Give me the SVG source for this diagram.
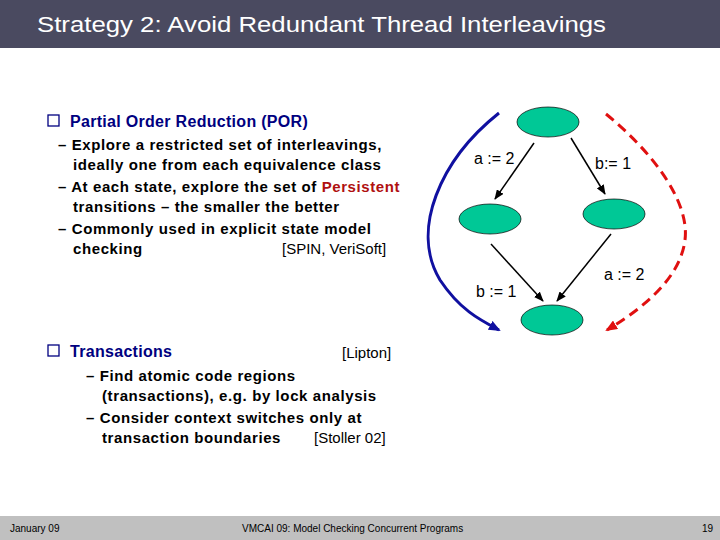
<svg xmlns="http://www.w3.org/2000/svg" width="720" height="540" viewBox="0 0 720 540">
<style>
text{font-family:"Liberation Sans",Arial,sans-serif}
.b{font-size:15px;font-weight:bold;fill:#000;letter-spacing:0.6px}
.h{font-size:16px;font-weight:bold;fill:#000080}
.r{font-size:15px;fill:#000}
.lab{font-size:16px;fill:#000}
.n{fill:#00c896;stroke:#000;stroke-width:0.7}
.e{stroke:#000;stroke-width:1.5;fill:none;marker-end:url(#a)}
.f{font-size:10px;fill:#000}
</style>
<defs>
<marker id="a" markerWidth="10" markerHeight="8" refX="9" refY="4" orient="auto" markerUnits="userSpaceOnUse"><path d="M0,0L10,4L0,8z" fill="#000"/></marker>
<marker id="ab" markerWidth="12" markerHeight="10" refX="10" refY="5" orient="auto" markerUnits="userSpaceOnUse"><path d="M0,0L12,5L0,10z" fill="#1010a0"/></marker>
<marker id="ar" markerWidth="12" markerHeight="10" refX="10" refY="5" orient="auto" markerUnits="userSpaceOnUse"><path d="M0,0L12,5L0,10z" fill="#e01010"/></marker>
</defs>
<rect x="0" y="0" width="720" height="48" fill="#4a4a60"/>
<text x="37" y="32" style="font-size:22px;fill:#fff" textLength="569" lengthAdjust="spacingAndGlyphs">Strategy 2: Avoid Redundant Thread Interleavings</text>
<rect x="0" y="516" width="720" height="24" fill="#c0c0c0"/>
<text x="10" y="532" class="f">January 09</text>
<text x="242" y="532" class="f">VMCAI 09: Model Checking Concurrent Programs</text>
<text x="702" y="532" class="f">19</text>

<rect x="48" y="115" width="11" height="11" fill="none" stroke="#000080" stroke-width="1.3"/>
<text x="70" y="127" class="h" letter-spacing="0.3">Partial Order Reduction (POR)</text>
<text x="58" y="150" class="b">– Explore a restricted set of interleavings,</text>
<text x="73" y="170" class="b">ideally one from each equivalence class</text>
<text x="58" y="192" class="b">– At each state, explore the set of <tspan fill="#b01010">Persistent</tspan></text>
<text x="73" y="212" class="b">transitions – the smaller the better</text>
<text x="58" y="234" class="b">– Commonly used in explicit state model</text>
<text x="73" y="254" class="b">checking</text>
<text x="282" y="254" class="r">[SPIN, VeriSoft]</text>

<rect x="48" y="345" width="11" height="11" fill="none" stroke="#000080" stroke-width="1.3"/>
<text x="70" y="357" class="h" letter-spacing="0.3">Transactions</text>
<text x="342" y="358" class="r">[Lipton]</text>
<text x="86" y="381" class="b">– Find atomic code regions</text>
<text x="102" y="401" class="b">(transactions), e.g. by lock analysis</text>
<text x="86" y="423" class="b">– Consider context switches only at</text>
<text x="102" y="443" class="b">transaction boundaries</text>
<text x="314" y="443" class="r">[Stoller 02]</text>

<g id="connectors">
<line class="e" x1="534" y1="143" x2="495" y2="199"/>
<line class="e" x1="571" y1="138" x2="605" y2="194"/>
<line class="e" x1="491" y1="244" x2="543" y2="301"/>
<line class="e" x1="611" y1="234" x2="557" y2="301"/>
<path d="M499,113 C440,160 410,230 440,280 C460,310 480,320 499,330" fill="none" stroke="#1010a0" stroke-width="3" marker-end="url(#ab)"/>
<path d="M606,114 C650,150 690,200 685,240 C680,280 640,310 607,330" fill="none" stroke="#e01010" stroke-width="3" stroke-dasharray="10,6" marker-end="url(#ar)"/>
</g>
<g id="n1"><ellipse class="n" cx="548" cy="122" rx="31" ry="15"/></g>
<g id="n2"><ellipse class="n" cx="490" cy="219" rx="31" ry="15"/></g>
<g id="n3"><ellipse class="n" cx="614" cy="214" rx="31" ry="15"/></g>
<g id="n4"><ellipse class="n" cx="552" cy="320" rx="31" ry="15"/></g>
<text x="474" y="164" class="lab">a := 2</text>
<text x="595" y="169" class="lab">b:= 1</text>
<text x="476" y="297" class="lab">b := 1</text>
<text x="604" y="280" class="lab">a := 2</text>
</svg>
